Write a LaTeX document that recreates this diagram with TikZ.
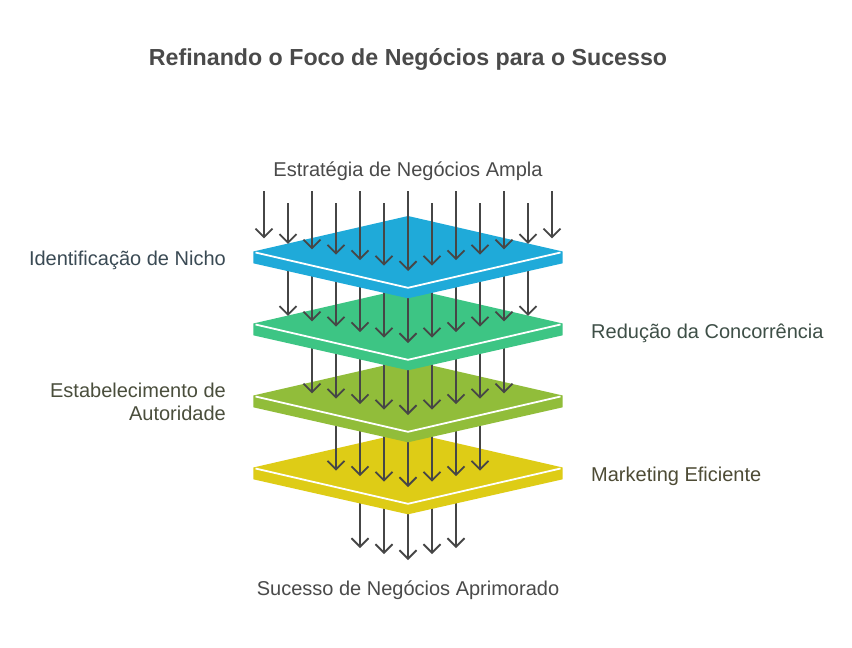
\documentclass[tikz,border=0pt]{standalone}
\usepackage{fontspec}
\setmainfont{Liberation Sans}
\usetikzlibrary{arrows.meta}
\definecolor{cblue}{HTML}{1FAAD9}
\definecolor{cgreen}{HTML}{3DC584}
\definecolor{colive}{HTML}{91BD3A}
\definecolor{cyellow}{HTML}{DECC16}
\definecolor{agray}{HTML}{464646}
\definecolor{tgray}{HTML}{4A4A4A}
\definecolor{tblue}{HTML}{3A4A54}
\definecolor{tgreen}{HTML}{3E4F47}
\definecolor{tolive}{HTML}{4A4E3C}
\definecolor{tyellow}{HTML}{4D4B35}
\tikzset{
  arr/.style={draw=agray, line width=1.8pt, -{Straight Barb[length=8.5pt,width=17pt]}},
  lbl/.style={font=\fontsize{20}{24}\selectfont, inner sep=0pt},
  ttl/.style={font=\fontsize{23.2}{26}\selectfont\bfseries, text=tgray, inner sep=0pt}
}
\newcommand\myslab[2]{%
  \fill[#1] (408,#2-35.5) -- (562.7,#2) -- (562.7,#2+11.8) -- (408,#2+46.8) -- (253.3,#2+11.8) -- (253.3,#2) -- cycle;
  \draw[white, line width=1.8pt] (255.5,#2+1) -- (408,#2+36.3) -- (560.5,#2+1);}
% #1 = max |k|, #2 = start y, #3 = layer side y (target)
\newcommand\myarrows[3]{%
  \foreach \k in {-#1,...,#1} {
    \pgfmathsetmacro\xx{408+24*\k}
    \pgfmathsetmacro\tip{#3+35.5-16-0.226*abs(24*\k)}
    \draw[arr] (\xx,#2) -- (\xx,\tip);
  }}
\begin{document}
\begin{tikzpicture}[x=1pt,y=-1pt]
\useasboundingbox (0,0) rectangle (852,648);
\fill[white] (0,0) rectangle (852,648);

% title
\node[ttl, anchor=base] (title) at (408,65) {Refinando o Foco de Negócios para o Sucesso};

% bottom arrows
\foreach \k in {-2,...,2} {
  \pgfmathsetmacro\xx{408+24*\k}
  \pgfmathsetmacro\tip{560-6*abs(\k)}
  \draw[arr] (\xx,490) -- (\xx,\tip);
}
% yellow layer
\myslab{cyellow}{467.5}
\myarrows{3}{410}{467.5}
% olive layer
\myslab{colive}{395.5}
\myarrows{4}{340}{395.5}
% green layer
\myslab{cgreen}{323.5}
\myarrows{5}{268}{323.5}
% blue layer
\myslab{cblue}{251.5}
\foreach \k in {-6,...,6} {
  \pgfmathsetmacro\xx{408+24*\k}
  \pgfmathsetmacro\tip{251.5+35.5-16-0.226*abs(24*\k)}
  \pgfmathsetmacro\st{mod(abs(\k),2)==0 ? 191 : 203}
  \draw[arr] (\xx,\st) -- (\xx,\tip);
}

% labels
\node[lbl, text=tgray, anchor=base] (top) at (408,176.5) {Estratégia de Negócios Ampla};
\node[lbl, text=tgray, anchor=base] (bot) at (408,595) {Sucesso de Negócios Aprimorado};
\node[lbl, text=tblue, anchor=base east] (l1) at (226,265) {Identificação de Nicho};
\node[lbl, text=tgreen, anchor=base west] (r1) at (591,338.5) {Redução da Concorrência};
\node[lbl, text=tolive, anchor=base east] (l2a) at (226,397) {Estabelecimento de};
\node[lbl, text=tolive, anchor=base east] (l2b) at (226,420) {Autoridade};
\node[lbl, text=tyellow, anchor=base west] (r2) at (591,481) {Marketing Eficiente};
\end{tikzpicture}
\end{document}
